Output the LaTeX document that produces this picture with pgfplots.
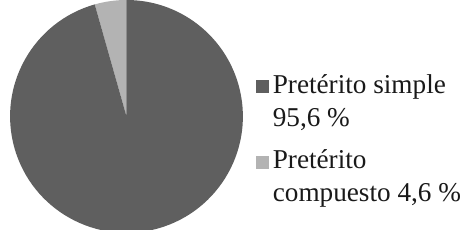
\documentclass[border=0pt]{standalone}
\usepackage{pgfplots}
\pgfplotsset{compat=1.18}
\usepackage{pgfplotstable}
\usepackage{fontspec}
\setmainfont{Liberation Serif}
\definecolor{darkslice}{HTML}{5F5F5F}
\definecolor{lightslice}{HTML}{B3B3B3}
\pgfplotstableread{
label value
simple 95.6
compuesto 4.4
}\piedata
\begin{document}
\begin{tikzpicture}
\pgfplotstablegetelem{0}{value}\of\piedata \let\va\pgfplotsretval
\pgfplotstablegetelem{1}{value}\of\piedata \let\vb\pgfplotsretval
\pgfmathsetmacro{\angb}{90+360*\vb/(\va+\vb)}
\begin{axis}[hide axis, scale only axis, width=461bp, height=242bp,
  xmin=0, xmax=461, ymin=0, ymax=242, clip=true]
\fill[lightslice] (axis cs:125.5,112) -- ++(90:115.5bp) arc[start angle=90,end angle=\angb,radius=115.5bp] -- cycle;
\fill[darkslice] (axis cs:125.5,112) -- ++(\angb:115.5bp) arc[start angle=\angb,end angle=450,radius=115.5bp] -- cycle;
\fill[darkslice] (axis cs:254,135) rectangle (axis cs:267,148);
\fill[lightslice] (axis cs:254,60) rectangle (axis cs:267,73);
\begin{scope}[every node/.style={font=\fontsize{27bp}{33bp}\selectfont, anchor=base west, inner sep=0pt, text=black!90}]
\node at (axis cs:270.5,135) {Pretérito simple};
\node at (axis cs:270.5,102) {95,6 \%};
\node at (axis cs:270.5,60) {Pretérito};
\node at (axis cs:270.5,28) {compuesto 4,6 \%};
\end{scope}
\end{axis}
\end{tikzpicture}
\end{document}
